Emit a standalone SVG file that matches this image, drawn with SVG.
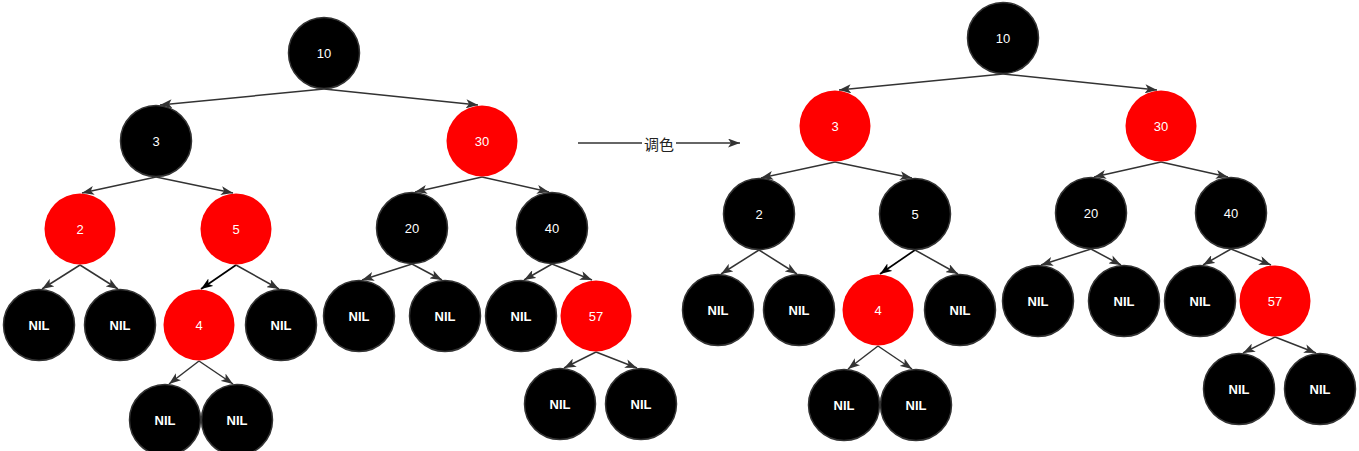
<svg xmlns="http://www.w3.org/2000/svg" width="1359" height="451" viewBox="0 0 1359 451">
<style>
.b{fill:#000;stroke:#333;stroke-width:1.5}
.r{fill:#f00;stroke:none}
.t{fill:#fff;font-family:"Liberation Sans",Arial,sans-serif;font-size:13px;text-anchor:middle;dominant-baseline:central}
.n{font-weight:bold}
.e{stroke:#333;stroke-width:1.5;fill:none;marker-end:url(#ah)}
.k{stroke:#000;stroke-width:1.7;fill:none;marker-end:url(#ak)}
.lbl{fill:#222;font-family:"Noto Sans CJK SC","Liberation Sans",sans-serif;font-size:15px;text-anchor:middle;dominant-baseline:central}
</style>
<defs>
<marker id="ah" viewBox="0 0 12 9" refX="12" refY="4.5" markerWidth="12" markerHeight="9" orient="auto" markerUnits="userSpaceOnUse"><path d="M0,0 L12,4.5 L0,9 L3,4.5 Z" fill="#333"/></marker>
<marker id="ak" viewBox="0 0 12 9" refX="12" refY="4.5" markerWidth="12" markerHeight="9" orient="auto" markerUnits="userSpaceOnUse"><path d="M0,0 L12,4.5 L0,9 L3,4.5 Z" fill="#000"/></marker>
</defs>
<rect width="1359" height="451" fill="#fff"/>
<g id="connectors">
<line class="e" x1="324" y1="89" x2="160" y2="105"/>
<line class="e" x1="324" y1="89" x2="478" y2="105"/>
<line class="e" x1="156" y1="177" x2="82" y2="193"/>
<line class="e" x1="156" y1="177" x2="233" y2="193"/>
<line class="e" x1="482" y1="177" x2="415" y2="192"/>
<line class="e" x1="482" y1="177" x2="549" y2="192"/>
<line class="e" x1="80" y1="265" x2="42" y2="289"/>
<line class="e" x1="80" y1="265" x2="118" y2="289"/>
<line class="k" x1="236" y1="265" x2="201" y2="289"/>
<line class="e" x1="236" y1="265" x2="279" y2="289"/>
<line class="e" x1="412" y1="264" x2="362" y2="280"/>
<line class="e" x1="412" y1="264" x2="442" y2="280"/>
<line class="e" x1="552" y1="264" x2="524" y2="280"/>
<line class="e" x1="552" y1="264" x2="592" y2="280"/>
<line class="e" x1="199" y1="361" x2="169" y2="384"/>
<line class="e" x1="199" y1="361" x2="233" y2="384"/>
<line class="e" x1="596" y1="352" x2="564" y2="368"/>
<line class="e" x1="596" y1="352" x2="637" y2="368"/>

<line class="e" x1="1003" y1="74" x2="839" y2="90"/>
<line class="e" x1="1003" y1="74" x2="1157" y2="90"/>
<line class="e" x1="835" y1="162" x2="761" y2="178"/>
<line class="e" x1="835" y1="162" x2="912" y2="178"/>
<line class="e" x1="1161" y1="162" x2="1094" y2="177"/>
<line class="e" x1="1161" y1="162" x2="1228" y2="177"/>
<line class="e" x1="759" y1="250" x2="721" y2="274"/>
<line class="e" x1="759" y1="250" x2="797" y2="274"/>
<line class="k" x1="915" y1="250" x2="880" y2="274"/>
<line class="e" x1="915" y1="250" x2="958" y2="274"/>
<line class="e" x1="1091" y1="249" x2="1041" y2="265"/>
<line class="e" x1="1091" y1="249" x2="1121" y2="265"/>
<line class="e" x1="1231" y1="249" x2="1203" y2="265"/>
<line class="e" x1="1231" y1="249" x2="1271" y2="265"/>
<line class="e" x1="878" y1="346" x2="848" y2="369"/>
<line class="e" x1="878" y1="346" x2="912" y2="369"/>
<line class="e" x1="1275" y1="337" x2="1243" y2="353"/>
<line class="e" x1="1275" y1="337" x2="1316" y2="353"/>

<g id="recolor-arrow">
<line class="e" x1="578" y1="143" x2="740" y2="143"/>
<rect x="642" y="133" width="34" height="20" fill="#fff"/>
<text class="lbl" x="659" y="143">调色</text>
</g>
</g>

<g id="L10"><circle class="b" cx="324" cy="53" r="35.5"/><text class="t" x="324" y="53">10</text></g>
<g id="L3"><circle class="b" cx="156" cy="141" r="35.5"/><text class="t" x="156" y="141">3</text></g>
<g id="L30"><circle class="r" cx="482" cy="141" r="35.5"/><text class="t" x="482" y="141">30</text></g>
<g id="L2"><circle class="r" cx="80" cy="229" r="35.5"/><text class="t" x="80" y="229">2</text></g>
<g id="L5"><circle class="r" cx="236" cy="229" r="35.5"/><text class="t" x="236" y="229">5</text></g>
<g id="L20"><circle class="b" cx="412" cy="228" r="35.5"/><text class="t" x="412" y="228">20</text></g>
<g id="L40"><circle class="b" cx="552" cy="228" r="35.5"/><text class="t" x="552" y="228">40</text></g>
<g id="LN1"><circle class="b" cx="39" cy="325" r="35.5"/><text class="t n" x="39" y="325">NIL</text></g>
<g id="LN2"><circle class="b" cx="120" cy="325" r="35.5"/><text class="t n" x="120" y="325">NIL</text></g>
<g id="L4"><circle class="r" cx="199" cy="325" r="35.5"/><text class="t" x="199" y="325">4</text></g>
<g id="LN3"><circle class="b" cx="281" cy="325" r="35.5"/><text class="t n" x="281" y="325">NIL</text></g>
<g id="LN4"><circle class="b" cx="359" cy="316" r="35.5"/><text class="t n" x="359" y="316">NIL</text></g>
<g id="LN5"><circle class="b" cx="445" cy="316" r="35.5"/><text class="t n" x="445" y="316">NIL</text></g>
<g id="LN6"><circle class="b" cx="521" cy="316" r="35.5"/><text class="t n" x="521" y="316">NIL</text></g>
<g id="L57"><circle class="r" cx="596" cy="316" r="35.5"/><text class="t" x="596" y="316">57</text></g>
<g id="LN7"><circle class="b" cx="165" cy="420" r="35.5"/><text class="t n" x="165" y="420">NIL</text></g>
<g id="LN8"><circle class="b" cx="237" cy="420" r="35.5"/><text class="t n" x="237" y="420">NIL</text></g>
<g id="LN9"><circle class="b" cx="560" cy="404" r="35.5"/><text class="t n" x="560" y="404">NIL</text></g>
<g id="LN10"><circle class="b" cx="641" cy="404" r="35.5"/><text class="t n" x="641" y="404">NIL</text></g>

<g id="R10"><circle class="b" cx="1003" cy="38" r="35.5"/><text class="t" x="1003" y="38">10</text></g>
<g id="R3"><circle class="r" cx="835" cy="126" r="35.5"/><text class="t" x="835" y="126">3</text></g>
<g id="R30"><circle class="r" cx="1161" cy="126" r="35.5"/><text class="t" x="1161" y="126">30</text></g>
<g id="R2"><circle class="b" cx="759" cy="214" r="35.5"/><text class="t" x="759" y="214">2</text></g>
<g id="R5"><circle class="b" cx="915" cy="214" r="35.5"/><text class="t" x="915" y="214">5</text></g>
<g id="R20"><circle class="b" cx="1091" cy="213" r="35.5"/><text class="t" x="1091" y="213">20</text></g>
<g id="R40"><circle class="b" cx="1231" cy="213" r="35.5"/><text class="t" x="1231" y="213">40</text></g>
<g id="RN1"><circle class="b" cx="718" cy="310" r="35.5"/><text class="t n" x="718" y="310">NIL</text></g>
<g id="RN2"><circle class="b" cx="799" cy="310" r="35.5"/><text class="t n" x="799" y="310">NIL</text></g>
<g id="R4"><circle class="r" cx="878" cy="310" r="35.5"/><text class="t" x="878" y="310">4</text></g>
<g id="RN3"><circle class="b" cx="960" cy="310" r="35.5"/><text class="t n" x="960" y="310">NIL</text></g>
<g id="RN4"><circle class="b" cx="1038" cy="301" r="35.5"/><text class="t n" x="1038" y="301">NIL</text></g>
<g id="RN5"><circle class="b" cx="1124" cy="301" r="35.5"/><text class="t n" x="1124" y="301">NIL</text></g>
<g id="RN6"><circle class="b" cx="1200" cy="301" r="35.5"/><text class="t n" x="1200" y="301">NIL</text></g>
<g id="R57"><circle class="r" cx="1275" cy="301" r="35.5"/><text class="t" x="1275" y="301">57</text></g>
<g id="RN7"><circle class="b" cx="844" cy="405" r="35.5"/><text class="t n" x="844" y="405">NIL</text></g>
<g id="RN8"><circle class="b" cx="916" cy="405" r="35.5"/><text class="t n" x="916" y="405">NIL</text></g>
<g id="RN9"><circle class="b" cx="1239" cy="389" r="35.5"/><text class="t n" x="1239" y="389">NIL</text></g>
<g id="RN10"><circle class="b" cx="1320" cy="389" r="35.5"/><text class="t n" x="1320" y="389">NIL</text></g>
</svg>
